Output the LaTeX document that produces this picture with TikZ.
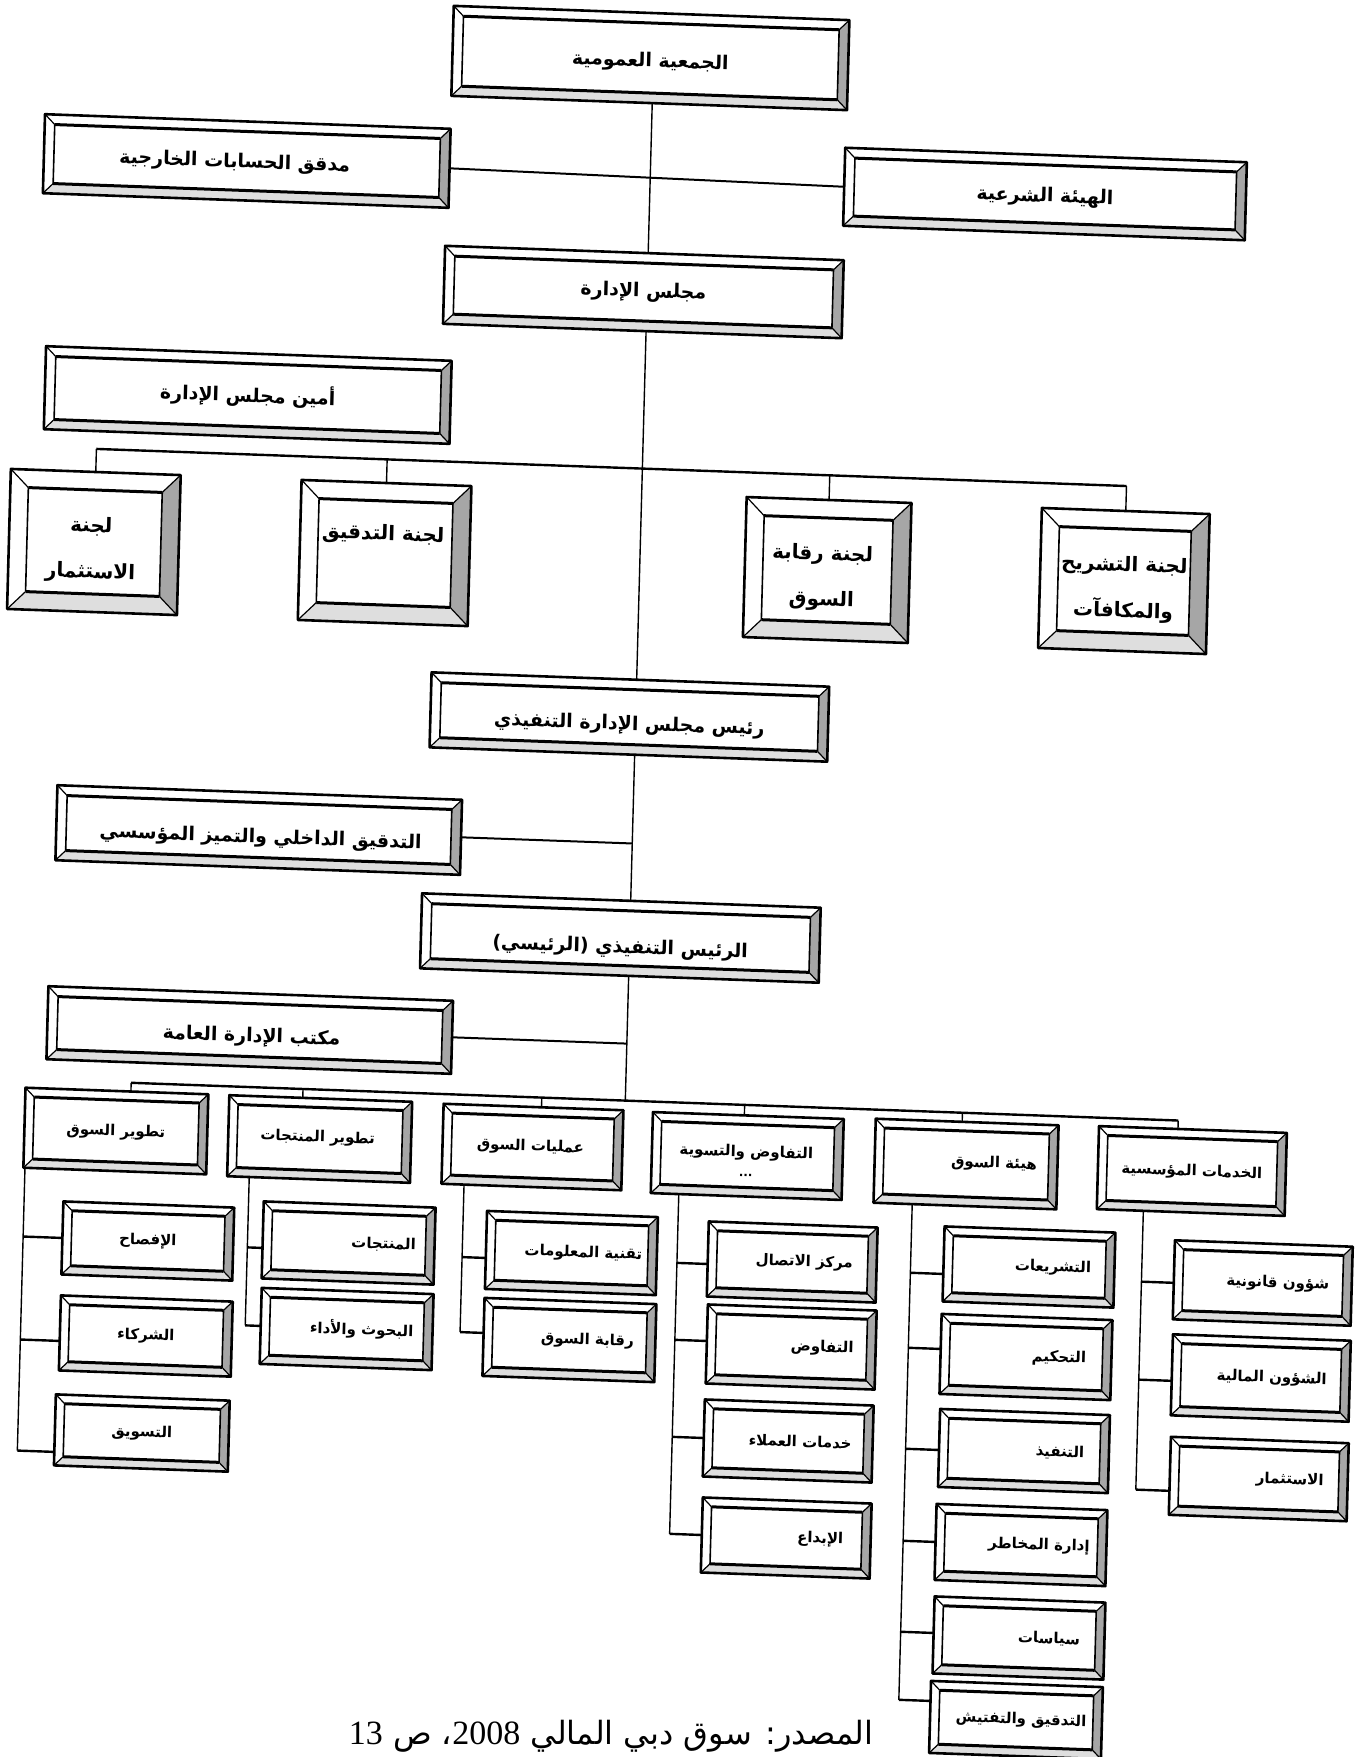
\documentclass[tikz,border=0pt]{standalone}
\usepackage{fontspec}
\setmainfont{Liberation Serif}
\newfontfamily\arfont[Script=Arabic]{DejaVu Sans}
\TeXXeTstate=1
\usetikzlibrary{calc}
\newcommand{\AR}[1]{\beginR #1\endR}
\def\bvm{10}\def\bvc{18}\def\bvd{9}\def\bvs{9}
\tikzset{
  boxfill/.style={fill=white, inner sep=0pt, outer sep=0pt, rectangle},
  txt/.style={inner sep=0pt, align=center, text=black},
  txtm/.style={txt, font=\arfont\bfseries\fontsize{9.5}{11}\selectfont},
  txtc/.style={txt, font=\arfont\bfseries\fontsize{10}{23}\selectfont},
  txtd/.style={txt, font=\arfont\bfseries\fontsize{7.5}{9}\selectfont},
  txts/.style={txt, font=\arfont\bfseries\fontsize{7.5}{9}\selectfont},
  rightstrip/.style={fill=black!35},
  botstrip/.style={fill=black!13},
  bevdiag/.style={line width=0.6pt},
  bevin/.style={line width=0.8pt},
  bevinh/.style={line width=1.5pt},
  outerline/.style={line width=1.3pt, line join=round},
  link/.style={line width=0.7pt},
  linkt/.style={line width=1.2pt},
}
\newcommand{\bevel}[2]{%
  \path (#1.north west) ++(#2,#2) coordinate (#1-a);
  \path (#1.north east) ++(-#2,#2) coordinate (#1-b);
  \path (#1.south east) ++(-#2,-#2) coordinate (#1-c);
  \path (#1.south west) ++(#2,-#2) coordinate (#1-d);
  \fill[rightstrip] (#1.north east) -- (#1-b) -- (#1-c) -- (#1.south east) -- cycle;
  \fill[botstrip] (#1.south west) -- (#1-d) -- (#1-c) -- (#1.south east) -- cycle;
  \draw[bevdiag] (#1.north west) -- (#1-a) (#1.north east) -- (#1-b)
                 (#1.south east) -- (#1-c) (#1.south west) -- (#1-d);
  \draw[bevin] (#1-a) -- (#1-d) (#1-b) -- (#1-c);
  \draw[bevinh] (#1-a) -- (#1-b) (#1-d) -- (#1-c);
  \draw[outerline] (#1.north west) -- (#1.north east) -- (#1.south east) -- (#1.south west) -- cycle;
}
\newcommand{\bx}[9]{%
  \node[boxfill, minimum width=#4*0.5pt, minimum height=#5*0.5pt] (#1)
     at ({(#2+0.027*#3)/1.00097},{(#3-0.036*#2)/1.00097}) {};
  \edef\tmpb{\csname bv#6\endcsname}%
  \bevel{#1}{\tmpb}%
  \node[txt#6] (#1-t) at ($(#1.center)+(#7,#8)$) {#9};
}
\begin{document}
\begin{tikzpicture}[x=0.5pt,y=-0.5pt]
\useasboundingbox (0,0) rectangle (1366,1757);
\fill[white] (0,0) rectangle (1366,1757);
\begin{scope}[xslant=0.027, yslant=-0.036, transform shape]
% ---- top levels
\bx{A}{651}{58}{396}{90}{m}{0}{4}{\AR{الجمعية العمومية}}
\bx{B}{247}{161}{406}{79}{m}{-12}{2}{\AR{مدقق الحسابات الخارجية}}
\bx{C}{1046}{194}{402}{78}{m}{0}{3}{\AR{الهيئة الشرعية}}
\bx{D}{644}{292}{399}{78}{m}{0}{0}{\AR{مجلس الإدارة}}
\bx{E}{248}{395}{406}{83}{m}{0}{0}{\AR{أمين مجلس الإدارة}}
% ---- committees
\bx{F}{94}{542}{170}{140}{c}{-3}{8}{\AR{لجنة}\\\AR{الاستثمار}}
\bx{G}{385}{553}{170}{140}{c}{-2}{-18}{\AR{لجنة التدقيق}}
\bx{H}{828}{570}{165}{140}{c}{-5}{8}{\AR{لجنة رقابة}\\\AR{السوق}}
\bx{I}{1125}{581}{168}{140}{c}{0}{8}{\AR{لجنة التشريح}\\\AR{والمكافآت}}
% ---- executive
\bx{J}{630}{717}{398}{75}{m}{0}{8}{\AR{رئيس مجلس الإدارة التنفيذي}}
\bx{K}{259}{830}{405}{75}{m}{2}{8}{\AR{التدقيق الداخلي والتميز المؤسسي}}
\bx{L}{621}{938}{399}{75}{m}{0}{10}{\AR{الرئيس التنفيذي (الرئيسي)}}
\bx{M}{250}{1030}{405}{73}{m}{2}{7}{\AR{مكتب الإدارة العامة}}
% ---- departments
\bx{d1}{116}{1131}{183}{80}{d}{0}{1}{\AR{تطوير السوق}}
\bx{d2}{320}{1139}{183}{81}{d}{-2}{-1}{\AR{تطوير المنتجات}}
\bx{d3}{533}{1147}{180}{80}{d}{-2}{0}{\AR{عمليات السوق}}
\bx{d4}{748}{1156}{191}{81}{d}{-1}{5}{\AR{التفاوض والتسوية}\\[1pt]{\fontsize{6}{6}\selectfont ...}}
\bx{d5}{967}{1164}{183}{84}{d}{28}{-1}{\AR{هيئة السوق}}
\bx{d6}{1193}{1171}{188}{83}{d}{0}{1}{\AR{الخدمات المؤسسية}}
% ---- sub units
\bx{s1a}{148}{1241}{171}{73}{s}{0}{0}{\AR{الإفصاح}}
\bx{s1b}{146}{1336}{172}{75}{s}{0}{0}{\AR{الشركاء}}
\bx{s1c}{142}{1433}{174}{71}{s}{0}{0}{\AR{التسويق}}
\bx{s2a}{349}{1243}{172}{77}{s}{35}{0}{\AR{المنتجات}}
\bx{s2b}{347}{1329}{172}{76}{s}{15}{0}{\AR{البحوث والأداء}}
\bx{s3a}{572}{1253}{171}{78}{s}{12}{0}{\AR{تقنية المعلومات}}
\bx{s3b}{570}{1340}{172}{78}{s}{18}{0}{\AR{رقابة السوق}}
\bx{s4a}{793}{1262}{169}{75}{s}{12}{0}{\AR{مركز الاتصال}}
\bx{s4b}{792}{1347}{169}{79}{s}{31}{0}{\AR{التفاوض}}
\bx{s4c}{789}{1441}{169}{77}{s}{12}{0}{\AR{خدمات العملاء}}
\bx{s4d}{787}{1538}{169}{75}{s}{34}{0}{\AR{الإبداع}}
\bx{s5a}{1030}{1267}{171}{75}{s}{24}{0}{\AR{التشريعات}}
\bx{s5b}{1027}{1357}{171}{80}{s}{33}{0}{\AR{التحكيم}}
\bx{s5c}{1025}{1451}{170}{78}{s}{36}{0}{\AR{التنفيذ}}
\bx{s5d}{1022}{1545}{171}{76}{s}{18}{0}{\AR{إدارة المخاطر}}
\bx{s5e}{1020}{1638}{171}{77}{s}{30}{0}{\AR{سياسات}}
\bx{s5f}{1017}{1720}{172}{72}{s}{5}{0}{\AR{التدقيق والتفتيش}}
\bx{s6a}{1264}{1283}{178}{79}{s}{15}{0}{\AR{شؤون قانونية}}
\bx{s6b}{1262}{1378}{178}{81}{s}{11}{0}{\AR{الشؤون المالية}}
\bx{s6c}{1260}{1479}{178}{78}{s}{31}{0}{\AR{الاستثمار}}
% ---- reference coordinates
\coordinate (tk) at (655,0);
\coordinate (cb) at (0,445);
\coordinate (db) at (0,1077);
\coordinate (c1) at (56.5,0);
\coordinate (c2) at (281,0);
\coordinate (c3) at (496,0);
\coordinate (c4) at (711,0);
\coordinate (c5) at (944.7,0);
\coordinate (c6) at (1176,0);
% ---- trunk
\draw[link] (A.south -| tk) -- (D.north -| tk);
\draw[link] (D.south -| tk) -- (J.north -| tk);
\draw[link] (J.south -| tk) -- (L.north -| tk);
\draw[link] (L.south -| tk) -- (db -| tk);
% ---- side links
\draw[link, line width=1pt] (B.east) -- (C.west);
\draw[link, line width=1pt] (K.east) -- (K.east -| tk);
\draw[link, line width=1pt] (M.east) -- (M.east -| tk);
% ---- committee bus
\draw[linkt] (F.north |- cb) -- (I.north |- cb);
\foreach \n in {F,G,H,I} \draw[link] (\n.north |- cb) -- (\n.north);
% ---- department bus
\path ($(d1.north)+(14,0)$) coordinate (d1-j)
      ($(d2.north)+(-18,0)$) coordinate (d2-j)
      ($(d3.north)+(8,0)$) coordinate (d3-j)
      ($(d4.north)+(-4,0)$) coordinate (d4-j)
      ($(d5.north)+(-5,0)$) coordinate (d5-j)
      ($(d6.north)+(-15,0)$) coordinate (d6-j);
\draw[linkt] (d1-j |- db) -- (d6-j |- db);
\foreach \n in {d1,d2,d3,d4,d5,d6} \draw[link] (\n-j |- db) -- (\n-j);
% ---- sub unit joins
\foreach \n/\o in {s1a/0,s1b/8,s1c/22,s2a/8,s2b/0,s3a/8,s3b/-4,s4a/5,s4b/-3,s4c/0,s4d/0,
                   s5a/10,s5b/-5,s5c/2,s5d/0,s5e/-2,s5f/-16,s6a/3,s6b/6,s6c/15}
  \path ($(\n.west)+(0,\o)$) coordinate (\n-j);
\foreach \n/\c in {s1a/c1,s1b/c1,s1c/c1,s2a/c2,s2b/c2,s3a/c3,s3b/c3,
                   s4a/c4,s4b/c4,s4c/c4,s4d/c4,s5a/c5,s5b/c5,s5c/c5,s5d/c5,s5e/c5,s5f/c5,
                   s6a/c6,s6b/c6,s6c/c6}
  \draw[linkt] (\n-j -| \c) -- (\n-j);
\draw[link] (d1.south -| c1) -- (s1c-j -| c1);
\draw[link] (d2.south -| c2) -- (s2b-j -| c2);
\draw[link] (d3.south -| c3) -- (s3b-j -| c3);
\draw[link] (d4.south -| c4) -- (s4d-j -| c4);
\draw[link] (d5.south -| c5) -- (s5f-j -| c5);
\draw[link] (d6.south -| c6) -- (s6c-j -| c6);
\end{scope}
% ---- source line
\node[anchor=base east, inner sep=0pt, font=\arfont\fontsize{16}{18}\selectfont] (cap) at (874,1744)
  {\beginR المصدر: سوق دبي المالي {\rmfamily\fontsize{17}{18}\selectfont\beginL 2008\endL}، ص {\rmfamily\fontsize{17}{18}\selectfont\beginL 13\endL}\endR};
\end{tikzpicture}
\end{document}
